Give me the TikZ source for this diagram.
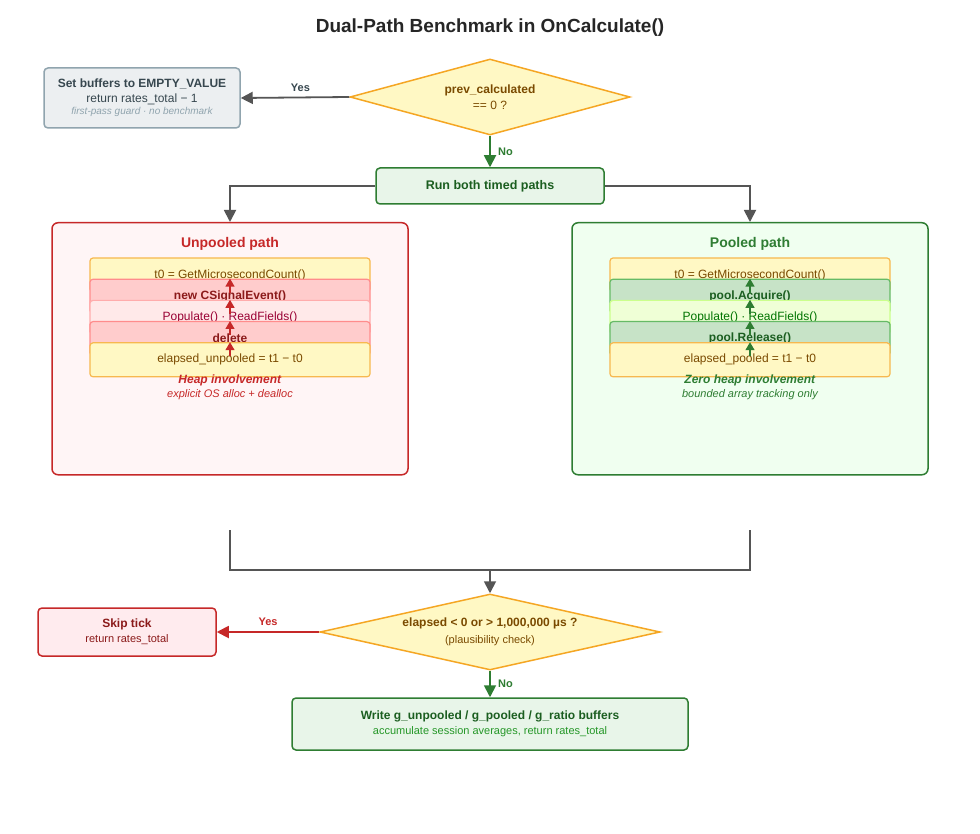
\documentclass[tikz,border=0pt]{standalone}
\usepackage{fontspec}
\setmainfont{Liberation Sans}
\usetikzlibrary{shapes.geometric,arrows.meta,positioning}
\definecolor{decision fill}{HTML}{FFF8C4}
\definecolor{decision draw}{HTML}{F5A623}
\definecolor{decision text}{HTML}{7A4A00}
\definecolor{guard fill}{HTML}{ECEFF1}
\definecolor{guard draw}{HTML}{90A4AE}
\definecolor{guard text}{HTML}{37474F}
\definecolor{ok fill}{HTML}{E8F5E9}
\definecolor{ok draw}{HTML}{2E7D32}
\definecolor{ok text}{HTML}{1B5E20}
\definecolor{bad fill}{HTML}{FFEBEE}
\definecolor{bad draw}{HTML}{C62828}
\definecolor{bad text}{HTML}{8B1A1A}
\definecolor{line gray}{HTML}{555555}
\tikzset{
    x={1pt},
    y={-1pt},
    every node/.style={font=\fontsize{12}{14}\selectfont},
    decision/.style={
        diamond, aspect=#1, draw=decision draw, fill=decision fill,
        line width=1.5pt, inner sep=0pt, align=center, text=decision text,
    },
    flow box/.style 2 args={
        rectangle, rounded corners=4pt, draw={#1}, fill={#2},
        line width=1.5pt, align=center,
    },
    step/.style n args={3}{
        rectangle, rounded corners=3pt, draw={#1}, fill={#2}, text={#3},
        line width=1.2pt, minimum width=280, minimum height=34,
        inner sep=0pt,
    },
    path box/.style 2 args={
        rectangle, rounded corners=6pt, draw={#1}, fill={#2},
        line width=1.5pt, minimum width=356, minimum height=252,
    },
    flow/.style={draw={#1}, line width=1.8pt, -{Triangle[length=12pt,width=12pt]}},
    flow/.default={line gray},
    small flow/.style={draw={#1}, line width=1.2pt, -{Triangle[length=8pt,width=9pt]}},
    branch label/.style={font=\fontsize{11}{13}\selectfont\bfseries, text={#1}},
}
\begin{document}
\begin{tikzpicture}
\useasboundingbox[fill=white] (0,0) rectangle (980,834);
% title
\node[font=\fontsize{19}{22}\selectfont\bfseries, text=black!85] (title) at (490,28) {Dual-Path Benchmark in OnCalculate()};
% first-pass guard
\node[decision=3.7, minimum width=280, minimum height=76] (prev) at (490,97) {\textbf{prev\_calculated}\\[2pt]== 0 ?};
\node[flow box={guard draw}{guard fill}, minimum width=196, minimum height=60, text=guard text] (guard) at (142,98)
    {\textbf{Set buffers to EMPTY\_VALUE}\\[1pt]return rates\_total − 1\\[-2pt]{\fontsize{10}{12}\selectfont\itshape\color{guard draw}first-pass guard · no benchmark}};
\node[flow box={ok draw}{ok fill}, minimum width=228, minimum height=36, text=ok text, font=\fontsize{12.5}{14}\selectfont\bfseries] (run) at (490,186) {Run both timed paths};
\draw[flow] (prev.west) -- node[branch label={guard text}, above, pos=0.45, yshift=2] {Yes} (guard.east);
\draw[flow={ok draw}] (prev.south) -- node[branch label={ok draw}, right, xshift=4] {No} (run.north);
% unpooled path
\node[path box={bad draw}{bad fill!50!white}, anchor=north] (unpooled) at (230,222) {};
\node[font=\fontsize{14}{16}\selectfont\bfseries, text=bad draw, below=12pt of unpooled.north] (unpooled title) {Unpooled path};
\node[step={decision draw!80}{decision fill}{decision text}] (u0) at (230,275) {t0 = GetMicrosecondCount()};
\node[step={red!45}{red!20}{bad text}, font=\fontsize{12}{14}\selectfont\bfseries, below=14 of u0] (u1) {new CSignalEvent()};
\node[step={pink!90!red}{pink!35}{purple!80!black}, below=14 of u1] (u2) {Populate() · ReadFields()};
\node[step={red!45}{red!20}{bad text}, font=\fontsize{12}{14}\selectfont\bfseries, below=14 of u2] (u3) {delete};
\node[step={decision draw!80}{decision fill}{decision text}, below=14 of u3] (u4) {elapsed\_unpooled = t1 − t0};
\foreach \a/\b in {u0/u1,u1/u2,u2/u3,u3/u4}
    \draw[small flow={bad draw}] (\a) -- (\b);
\node[text=bad draw, align=center, below=6 of u4] (unpooled note)
    {\textbf{\itshape Heap involvement}\\[0pt]{\fontsize{11}{13}\selectfont\itshape explicit OS alloc + dealloc}};
% pooled path
\node[path box={ok draw}{green!6!white}, anchor=north] (pooled) at (750,222) {};
\node[font=\fontsize{14}{16}\selectfont\bfseries, text=ok draw, below=12pt of pooled.north] (pooled title) {Pooled path};
\node[step={decision draw!80}{decision fill}{decision text}] (p0) at (750,275) {t0 = GetMicrosecondCount()};
\node[step={green!55!black!60}{green!50!black!22}{ok text}, font=\fontsize{12}{14}\selectfont\bfseries, below=14 of p0] (p1) {pool.Acquire()};
\node[step={green!45!yellow!45}{green!40!yellow!16}{green!45!black}, below=14 of p1] (p2) {Populate() · ReadFields()};
\node[step={green!55!black!60}{green!50!black!22}{ok text}, font=\fontsize{12}{14}\selectfont\bfseries, below=14 of p2] (p3) {pool.Release()};
\node[step={decision draw!80}{decision fill}{decision text}, below=14 of p3] (p4) {elapsed\_pooled = t1 − t0};
\foreach \a/\b in {p0/p1,p1/p2,p2/p3,p3/p4}
    \draw[small flow={ok draw}] (\a) -- (\b);
\node[text=ok draw, align=center, below=6 of p4] (pooled note)
    {\textbf{\itshape Zero heap involvement}\\[0pt]{\fontsize{11}{13}\selectfont\itshape bounded array tracking only}};
\draw[flow] (run.west) -| (unpooled.north);
\draw[flow] (run.east) -| (pooled.north);
% plausibility check
\node[decision=4.5, minimum width=340, minimum height=76] (check) at (490,632)
    {\textbf{elapsed < 0 or > 1,000,000 µs ?}\\[3pt]{\fontsize{11}{13}\selectfont (plausibility check)}};
\coordinate (unpooled end) at (230,530);
\coordinate (pooled end) at (750,530);
\coordinate (merge) at (490,570);
\draw[line gray, line width=1.8pt] (unpooled end) |- (merge) -| (pooled end);
\draw[flow] (merge) -- (check.north);
\node[flow box={bad draw}{bad fill}, minimum width=178, minimum height=48, text=bad text] (skip) at (127,632)
    {\textbf{Skip tick}\\[1pt]{\fontsize{11}{13}\selectfont return rates\_total}};
\node[flow box={ok draw}{ok fill}, minimum width=396, minimum height=52, text=ok text] (write) at (490,724)
    {\textbf{Write g\_unpooled / g\_pooled / g\_ratio buffers}\\[1pt]{\fontsize{11}{13}\selectfont\color{ok draw!80!green}accumulate session averages, return rates\_total}};
\draw[flow={bad draw}] (check.west) -- node[branch label={bad draw}, above, yshift=2] {Yes} (skip.east);
\draw[flow={ok draw}] (check.south) -- node[branch label={ok draw}, right, xshift=4] {No} (write.north);
\end{tikzpicture}
\end{document}
